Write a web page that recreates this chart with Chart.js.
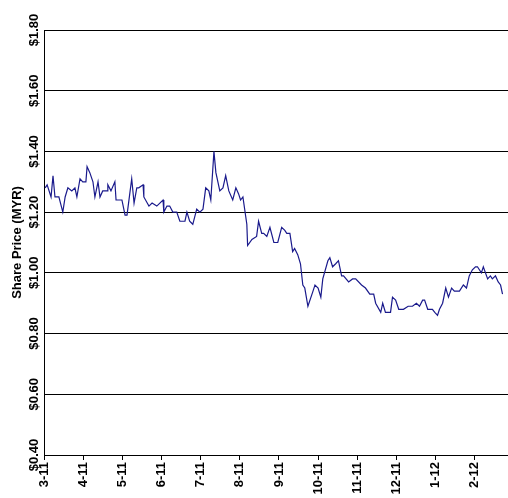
<!DOCTYPE html>
<html>
<head>
<meta charset="utf-8">
<script src="https://cdn.jsdelivr.net/npm/chart.js@4"></script>
<style>
  body { margin: 0; background: #fff; }
  #wrap { width: 508px; height: 498px; }
</style>
</head>
<body>
<div id="wrap"><canvas id="chart"></canvas></div>
<script>
// month labels, one per tick (0 = Mar 2011)
const monthLabels = ["3-11", "4-11", "5-11", "6-11", "7-11", "8-11", "9-11", "10-11", "11-11", "12-11", "1-12", "2-12"];
const priceTicks = [0.4, 0.6, 0.8, 1.0, 1.2, 1.4, 1.6, 1.8];

// positions in months since 3-11
const months = [
  0.03, 0.08, 0.18, 0.23, 0.28, 0.38, 0.48, 0.54, 0.61, 0.71, 0.79, 0.84, 0.92, 0.99, 1.07, 1.10, 1.17, 1.25, 1.30, 1.38, 1.43, 1.50, 1.61, 1.63, 1.71, 1.81, 1.84, 1.99, 2.07, 2.12,
  2.19, 2.24, 2.30, 2.37, 2.42, 2.53, 2.55, 2.68, 2.76, 2.88, 3.04, 3.06, 3.14, 3.21, 3.29, 3.39, 3.47, 3.60, 3.65, 3.72, 3.80, 3.90, 3.98, 4.06, 4.13, 4.21, 4.26, 4.34, 4.39, 4.49,
  4.57, 4.64, 4.72, 4.82, 4.90, 4.97, 5.02, 5.08, 5.18, 5.20, 5.31, 5.43, 5.48, 5.56, 5.61, 5.69, 5.77, 5.87, 5.97, 6.07, 6.15, 6.20, 6.28, 6.35, 6.40, 6.48, 6.55, 6.61, 6.66, 6.74,
  6.87, 6.92, 7.00, 7.07, 7.12, 7.25, 7.30, 7.37, 7.45, 7.52, 7.60, 7.65, 7.78, 7.88, 7.96, 8.11, 8.21, 8.32, 8.42, 8.47, 8.60, 8.65, 8.72, 8.85, 8.90, 8.98, 9.06, 9.18, 9.30, 9.41,
  9.51, 9.59, 9.67, 9.72, 9.80, 9.92, 9.98, 10.05, 10.10, 10.18, 10.26, 10.33, 10.41, 10.48, 10.61, 10.71, 10.79, 10.86, 10.94, 11.02, 11.07, 11.17, 11.22, 11.33, 11.40, 11.45, 11.53, 11.60, 11.66, 11.71
];
const prices = [
  1.28, 1.29, 1.25, 1.32, 1.25, 1.25, 1.20, 1.25, 1.28, 1.27, 1.28, 1.25, 1.31, 1.30, 1.30, 1.35, 1.33, 1.30, 1.25, 1.30, 1.25, 1.27, 1.27, 1.29, 1.27, 1.30, 1.24, 1.24, 1.19, 1.19,
  1.26, 1.31, 1.23, 1.28, 1.28, 1.29, 1.25, 1.22, 1.23, 1.22, 1.24, 1.20, 1.22, 1.22, 1.20, 1.20, 1.17, 1.17, 1.20, 1.17, 1.16, 1.21, 1.20, 1.21, 1.28, 1.27, 1.24, 1.40, 1.33, 1.27,
  1.28, 1.32, 1.27, 1.24, 1.28, 1.26, 1.24, 1.25, 1.16, 1.09, 1.11, 1.12, 1.17, 1.13, 1.13, 1.12, 1.15, 1.10, 1.10, 1.15, 1.14, 1.13, 1.13, 1.07, 1.08, 1.06, 1.03, 0.96, 0.95, 0.89,
  0.94, 0.96, 0.95, 0.92, 0.98, 1.04, 1.05, 1.02, 1.03, 1.04, 0.99, 0.99, 0.97, 0.98, 0.98, 0.96, 0.95, 0.93, 0.93, 0.90, 0.87, 0.90, 0.87, 0.87, 0.92, 0.91, 0.88, 0.88, 0.89, 0.89,
  0.90, 0.89, 0.91, 0.91, 0.88, 0.88, 0.87, 0.86, 0.88, 0.90, 0.95, 0.92, 0.95, 0.94, 0.94, 0.96, 0.95, 0.99, 1.01, 1.02, 1.02, 1.00, 1.02, 0.98, 0.99, 0.98, 0.99, 0.97, 0.96, 0.93
];

const points = months.map(function (m, i) {
  return { x: m, y: prices[i] };
});

// y tick labels are drawn rotated, like the original
const rotatedYLabels = {
  id: "rotatedYLabels",
  afterDraw(chart) {
    const ctx = chart.ctx;
    const yScale = chart.scales.y;
    ctx.save();
    ctx.font = "bold 13px Arial, 'Liberation Sans', sans-serif";
    ctx.fillStyle = "#000";
    ctx.textAlign = "center";
    ctx.textBaseline = "middle";
    priceTicks.forEach(function (v) {
      const py = yScale.getPixelForValue(v);
      ctx.save();
      ctx.translate(34, py);
      ctx.rotate(-Math.PI / 2);
      ctx.fillText("$" + v.toFixed(2), 0, 0);
      ctx.restore();
    });
    ctx.restore();
  },
};

new Chart(document.getElementById("chart"), {
  type: "line",
  data: {
    datasets: [{
      data: points,
      borderColor: "#1a1a8c",
      borderWidth: 1.2,
      pointRadius: 0,
      tension: 0,
    }],
  },
  options: {
    responsive: true,
    maintainAspectRatio: false,
    animation: false,
    layout: { padding: { top: 30, right: 0, left: 2, bottom: 0 } },
    plugins: { legend: { display: false }, tooltip: { enabled: false } },
    scales: {
      x: {
        type: "linear",
        min: 0,
        max: 11.85,
        afterFit(scale) { scale.height = 43; },
        afterBuildTicks(scale) {
          scale.ticks = monthLabels.map(function (l, i) { return { value: i }; });
        },
        grid: { drawOnChartArea: false, color: "#000", tickLength: 5 },
        border: { color: "#000", width: 1 },
        ticks: {
          autoSkip: false,
          minRotation: 90,
          maxRotation: 90,
          padding: 2,
          color: "#000",
          font: { family: "Arial, 'Liberation Sans', sans-serif", size: 13, weight: "bold" },
          callback: function (v) { return monthLabels[Math.round(v)]; },
        },
      },
      y: {
        min: 0.4,
        max: 1.8,
        afterFit(scale) { scale.width = 42; },
        afterBuildTicks(scale) {
          scale.ticks = priceTicks.map(function (v) { return { value: v }; });
        },
        grid: { color: "#000", lineWidth: 1, drawTicks: false },
        border: { color: "#000", width: 1 },
        ticks: { display: false },
        title: {
          display: true,
          text: "Share Price (MYR)",
          color: "#000",
          padding: { top: 8, bottom: 0 },
          font: { family: "Arial, 'Liberation Sans', sans-serif", size: 13, weight: "bold" },
        },
      },
    },
  },
  plugins: [rotatedYLabels],
});
</script>
</body>
</html>
